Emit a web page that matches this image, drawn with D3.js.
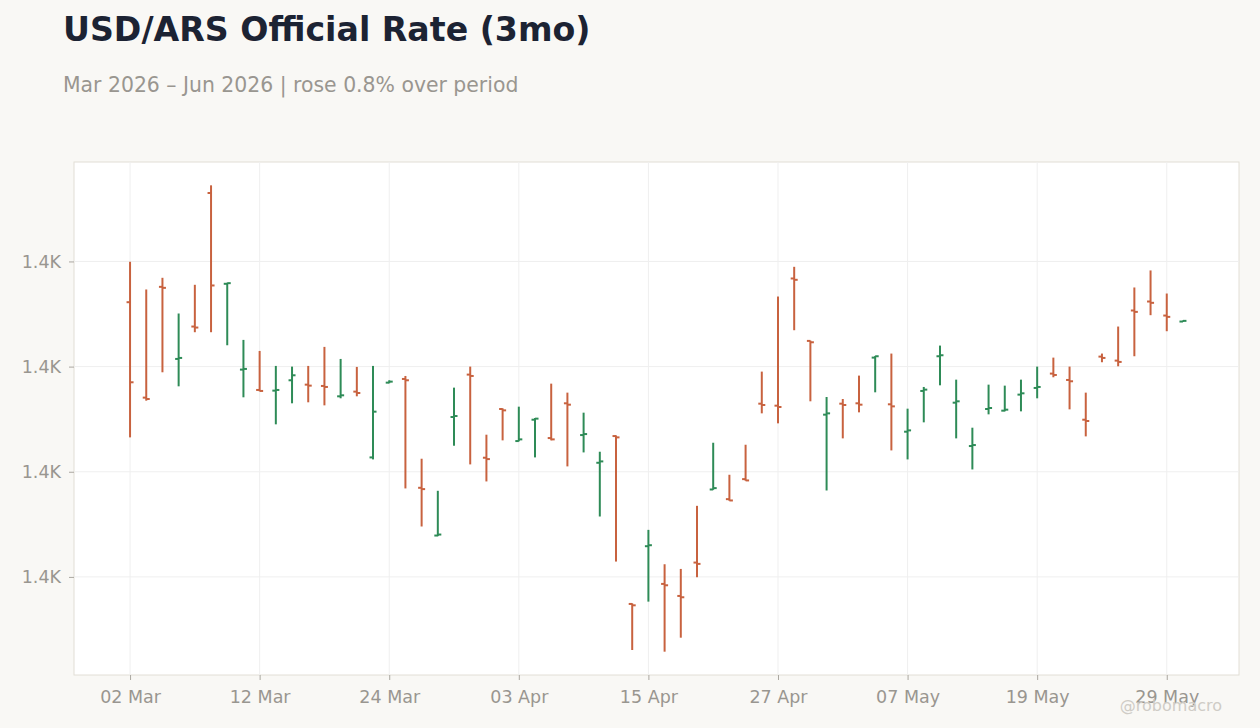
<!DOCTYPE html>
<head>
<meta charset="utf-8">
<script src="https://cdn.jsdelivr.net/npm/d3@7"></script>
<style>
  body { margin: 0; background: #f9f8f5; }
</style>
</head>
<body>
<div id="chart"></div>
<script>
    // trading days, Mar 2 - Jun 1 2026
    var dates = [
        "2026-03-02","2026-03-03","2026-03-04","2026-03-05","2026-03-06",
        "2026-03-09","2026-03-10","2026-03-11","2026-03-12","2026-03-13",
        "2026-03-16","2026-03-17","2026-03-18","2026-03-19","2026-03-20",
        "2026-03-23","2026-03-24","2026-03-25","2026-03-26","2026-03-27",
        "2026-03-30","2026-03-31","2026-04-01","2026-04-02","2026-04-03",
        "2026-04-06","2026-04-07","2026-04-08","2026-04-09","2026-04-10",
        "2026-04-13","2026-04-14","2026-04-15","2026-04-16","2026-04-17",
        "2026-04-20","2026-04-21","2026-04-22","2026-04-23","2026-04-24",
        "2026-04-27","2026-04-28","2026-04-29","2026-04-30","2026-05-01",
        "2026-05-04","2026-05-05","2026-05-06","2026-05-07","2026-05-08",
        "2026-05-11","2026-05-12","2026-05-13","2026-05-14","2026-05-15",
        "2026-05-18","2026-05-19","2026-05-20","2026-05-21","2026-05-22",
        "2026-05-25","2026-05-26","2026-05-27","2026-05-28","2026-05-29",
        "2026-06-01"];

    var open = [1432.25,1414.10,1435.17,1421.46,1427.62,1453.02,1435.75,1419.43,1415.56,1415.43,
        1417.40,1416.57,1416.32,1414.35,1415.24,1402.73,1416.95,1417.65,1396.95,1387.87,
        1410.41,1418.48,1402.67,1411.94,1405.84,1409.90,1406.41,1413.02,1406.98,1401.71,
        1406.79,1374.86,1385.84,1378.67,1376.38,1382.73,1396.63,1394.79,1398.60,1412.95,
        1412.57,1436.76,1424.89,1410.86,1412.95,1413.02,1421.71,1412.83,1407.62,1415.37,
        1421.97,1413.14,1404.89,1411.94,1411.62,1414.67,1415.94,1418.67,1417.46,1409.90,
        1421.90,1421.14,1430.67,1432.38,1429.71,1428.57];

    var high = [1439.94,1434.67,1436.89,1430.10,1435.56,1454.48,1435.94,1425.08,1422.98,1420.13,
        1420.00,1420.13,1423.75,1421.46,1419.94,1420.13,1417.40,1418.22,1402.48,1396.38,
        1416.00,1420.00,1407.05,1412.06,1412.38,1410.22,1416.76,1415.05,1411.24,1403.81,
        1406.92,1374.98,1388.95,1382.41,1381.52,1393.52,1405.52,1399.43,1405.14,1419.05,
        1433.33,1438.98,1424.95,1414.22,1413.84,1418.29,1422.03,1422.48,1412.00,1416.13,
        1424.00,1417.52,1408.38,1416.57,1416.38,1417.52,1420.00,1421.71,1420.00,1415.05,
        1422.48,1427.62,1435.05,1438.29,1433.90,1428.76];

    var low = [1406.54,1413.52,1418.92,1416.25,1426.54,1426.54,1424.06,1414.16,1415.30,1409.02,
        1413.02,1413.21,1412.63,1413.97,1414.35,1402.35,1416.83,1396.83,1389.59,1387.75,
        1404.95,1401.40,1398.16,1405.97,1405.78,1402.73,1405.97,1401.02,1403.68,1391.49,
        1382.92,1366.10,1375.30,1365.78,1368.44,1379.94,1396.57,1394.48,1398.29,1411.11,
        1409.21,1426.92,1413.40,1396.44,1406.35,1411.30,1415.11,1404.06,1402.35,1409.40,
        1416.44,1406.35,1400.44,1410.92,1411.49,1411.49,1413.97,1417.97,1411.87,1406.73,
        1420.83,1420.06,1421.97,1429.78,1426.73,1428.51];

    var close = [1417.02,1413.84,1434.98,1421.65,1427.43,1435.43,1435.87,1419.56,1415.37,1415.56,
        1418.35,1416.38,1416.13,1414.54,1414.98,1411.43,1417.14,1417.40,1396.70,1388.06,
        1410.60,1418.22,1402.41,1411.68,1406.16,1410.10,1406.16,1412.76,1407.17,1401.97,
        1406.54,1374.60,1386.03,1378.41,1376.13,1382.48,1396.89,1394.54,1398.35,1412.70,
        1412.32,1436.51,1424.63,1411.11,1412.70,1412.76,1421.97,1412.44,1407.87,1415.62,
        1422.16,1413.40,1405.08,1412.13,1411.81,1414.92,1416.13,1418.41,1417.21,1409.65,
        1421.65,1420.89,1430.41,1432.13,1429.46,1428.70];

    var title = "USD/ARS Official Rate (3mo)";
    var subtitle = "Mar 2026 \u2013 Jun 2026 | rose 0.8% over period";

    var upColor = "#2e8b57", downColor = "#c8623f";

    var W = 1260, H = 728;
    var margin = {top: 162, right: 21, bottom: 53, left: 74},
        width = W - margin.left - margin.right,
        height = H - margin.top - margin.bottom;

    var data = dates.map(function(d, i) {
        return {date: d, open: open[i], high: high[i], low: low[i], close: close[i]};
    });

    var svg = d3.select("#chart").append("svg")
        .attr("width", W).attr("height", H)
        .style("font-family", "'DejaVu Sans', sans-serif");

    svg.append("rect").attr("width", W).attr("height", H).attr("fill", "#f9f8f5");

    svg.append("text").attr("x", 63).attr("y", 41)
        .attr("font-size", 33.2).attr("font-weight", "bold").attr("fill", "#1c2333")
        .text(title);
    svg.append("text").attr("x", 63).attr("y", 92)
        .attr("font-size", 20.4).attr("fill", "#999690")
        .text(subtitle);

    var g = svg.append("g").attr("transform", "translate(" + margin.left + "," + margin.top + ")");

    g.append("rect").attr("width", width).attr("height", height)
        .attr("fill", "#fff").attr("stroke", "#e2ded6");

    var x = d3.scalePoint().domain(dates).range([0, width]).padding(3.46);

    var lo = d3.min(low), hi = d3.max(high), pad = (hi - lo) * 0.05;
    var y = d3.scaleLinear().domain([lo - pad, hi + pad]).range([height, 0]);

    var tickDates = dates.filter(function(d, i) { return i % 8 == 0; });
    var parse = d3.timeParse("%Y-%m-%d"), fmt = d3.timeFormat("%d %b");
    var yFmt = function(d) { return d3.format(".2s")(d).replace("k", "K"); };

    // grid
    g.append("g").selectAll("line").data(tickDates).enter().append("line")
        .attr("x1", function(d) { return x(d); }).attr("x2", function(d) { return x(d); })
        .attr("y1", 0).attr("y2", height)
        .attr("stroke", "#efefef");
    g.append("g").selectAll("line").data(y.ticks(5)).enter().append("line")
        .attr("x1", 0).attr("x2", width)
        .attr("y1", function(d) { return y(d); }).attr("y2", function(d) { return y(d); })
        .attr("stroke", "#efefef");

    // axes
    var xAxis = g.append("g").attr("transform", "translate(0," + height + ")")
        .call(d3.axisBottom(x).tickValues(tickDates)
              .tickFormat(function(d) { return fmt(parse(d)); })
              .tickSize(5).tickPadding(11));
    var yAxis = g.append("g")
        .call(d3.axisLeft(y).ticks(5).tickFormat(yFmt).tickSize(5).tickPadding(8));
    [xAxis, yAxis].forEach(function(a) {
        a.select(".domain").remove();
        a.selectAll("line").attr("stroke", "#aaa7a0");
        a.selectAll("text").attr("fill", "#999690").attr("font-size", 17.5)
            .attr("font-family", "'DejaVu Sans', sans-serif");
    });

    // OHLC bars
    var col = function(d) { return d.close >= d.open ? upColor : downColor; };
    var bars = g.append("g").selectAll("g").data(data).enter().append("g")
        .attr("transform", function(d) { return "translate(" + x(d.date) + ",0)"; });
    bars.append("line")
        .attr("y1", function(d) { return y(d.high); })
        .attr("y2", function(d) { return y(d.low); })
        .attr("stroke", col).attr("stroke-width", 2);
    bars.append("line")
        .attr("x1", -3.5).attr("x2", 0)
        .attr("y1", function(d) { return y(d.open); })
        .attr("y2", function(d) { return y(d.open); })
        .attr("stroke", col).attr("stroke-width", 2);
    bars.append("line")
        .attr("x1", 0).attr("x2", 3.5)
        .attr("y1", function(d) { return y(d.close); })
        .attr("y2", function(d) { return y(d.close); })
        .attr("stroke", col).attr("stroke-width", 2);

    svg.append("text").attr("x", 1222).attr("y", 711)
        .attr("text-anchor", "end").attr("font-size", 16).attr("fill", "#cfccc6")
        .text("@robomacro");
</script>
</body>
